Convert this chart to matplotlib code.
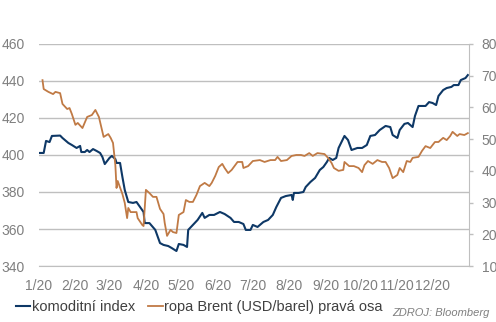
import matplotlib
matplotlib.use("Agg")
import matplotlib.pyplot as plt
import matplotlib.dates as mdates
import pandas as pd

# komoditní index (left axis), day offset from 2020-01-01
index_days = [0, 4, 6, 9, 11, 18, 20, 25, 28, 32, 35, 36, 39, 41, 43, 46, 49, 52, 54, 56,
              60, 62, 65, 66, 69, 71, 73, 76, 80, 83, 86, 89, 90, 94, 99, 103, 106, 110, 113, 117,
              119, 123, 126, 127, 131, 135, 139, 141, 145, 149, 154, 158, 163, 166, 170, 174, 176, 180, 182, 186,
              191, 195, 199, 202, 206, 210, 215, 216, 217, 221, 225, 227, 231, 235, 239, 242, 245, 247, 250, 253,
              255, 260, 263, 266, 271, 275, 279, 282, 286, 290, 295, 299, 301, 305, 307, 311, 314, 318, 320, 323,
              329, 332, 335, 338, 340, 344, 347, 351, 353, 357, 359, 363, 365]
index_vals = [401.1, 401.1, 407.6, 407.0, 410.3, 410.5, 409.2, 406.5, 405.4, 403.8, 404.9, 401.6, 401.6, 402.7, 401.6, 403.2, 402.2, 401.1, 398.9, 395.1,
              398.4, 399.5, 397.8, 395.7, 395.7, 388.1, 381.1, 374.6, 374.1, 374.6, 371.9, 369.2, 363.2, 363.2, 359.5, 352.4, 351.4, 350.8, 349.7, 348.1,
              351.9, 351.4, 350.3, 359.5, 362.2, 364.9, 368.7, 366.0, 367.6, 367.6, 369.2, 368.1, 366.0, 363.8, 363.8, 362.7, 359.5, 359.5, 362.2, 361.1,
              363.8, 364.9, 367.6, 371.9, 376.8, 377.8, 378.4, 375.7, 379.5, 379.5, 380.0, 382.7, 385.4, 387.6, 391.9, 393.5, 396.2, 398.4, 397.3, 398.4,
              403.8, 410.3, 408.1, 402.7, 403.8, 403.8, 405.4, 410.3, 410.8, 413.5, 415.7, 415.1, 410.8, 409.2, 413.5, 416.8, 417.3, 415.1, 421.1, 426.5,
              426.5, 428.6, 428.1, 427.0, 431.9, 435.1, 436.2, 436.8, 437.8, 437.8, 440.5, 441.6, 443.2]

# ropa Brent USD/barel (right axis)
brent_days = [3, 4, 8, 12, 14, 18, 20, 24, 26, 28, 31, 33, 37, 41, 45, 48, 51, 55, 59, 61,
              63, 65, 66, 67, 71, 73, 75, 76, 78, 83, 84, 88, 89, 91, 94, 97, 100, 103, 106, 107,
              109, 112, 114, 117, 119, 123, 125, 128, 131, 134, 137, 141, 145, 147, 150, 153, 156, 158, 161, 164,
              169, 173, 174, 178, 182, 188, 192, 197, 201, 203, 206, 211, 215, 219, 223, 226, 230, 233, 237, 243,
              246, 249, 251, 255, 259, 260, 264, 268, 272, 275, 277, 280, 284, 288, 292, 295, 298, 301, 305, 307,
              310, 313, 316, 318, 323, 326, 329, 333, 337, 340, 344, 347, 350, 352, 356, 358, 362, 365]
brent_vals = [68.6, 65.8, 64.9, 64.2, 64.9, 64.5, 61.1, 59.5, 59.8, 57.9, 54.5, 55.1, 53.5, 57.0, 57.6, 59.2, 57.0, 50.7, 51.6, 50.4,
              48.8, 41.8, 34.6, 36.8, 32.7, 29.9, 25.1, 28.3, 27.0, 27.0, 25.1, 22.9, 22.6, 34.0, 33.0, 31.8, 31.8, 28.0, 26.4, 23.6,
              19.5, 21.4, 20.7, 20.4, 26.1, 27.0, 30.8, 30.2, 30.2, 32.4, 35.2, 36.2, 35.2, 36.2, 38.4, 41.2, 42.2, 40.9, 39.3, 40.3,
              42.8, 42.8, 40.9, 41.5, 43.1, 43.4, 42.8, 43.4, 43.4, 44.4, 43.1, 43.4, 44.7, 45.0, 45.0, 44.7, 45.6, 44.7, 45.6, 45.3,
              44.1, 42.5, 40.9, 40.0, 40.3, 42.8, 41.5, 41.5, 40.9, 39.6, 41.8, 43.1, 42.2, 43.4, 42.8, 42.8, 40.9, 37.7, 38.7, 40.9,
              39.6, 43.1, 42.8, 44.1, 44.4, 46.3, 47.8, 47.2, 49.1, 49.1, 50.4, 49.7, 51.0, 52.3, 51.0, 51.6, 51.3, 51.9]

month_labels = ["1/20", "2/20", "3/20", "4/20", "5/20", "6/20",
                "7/20", "8/20", "9/20", "10/20", "11/20", "12/20"]

start = pd.Timestamp("2020-01-01")
index_dates = start + pd.to_timedelta(index_days, unit="D")
brent_dates = start + pd.to_timedelta(brent_days, unit="D")
month_starts = pd.date_range("2020-01-01", periods=12, freq="MS")

plt.rcParams["font.family"] = ["Liberation Sans", "DejaVu Sans"]
blue = "#0e3866"
orange = "#c07a45"
grid_c = "#bfbfbf"
tick_c = "#7f7f7f"

fig = plt.figure(figsize=(4.96, 3.22), dpi=100)
ax = fig.add_axes([0.0786, 0.1739, 0.867, 0.6895])
ax2 = ax.twinx()

ln1, = ax.plot(index_dates, index_vals, color=blue, lw=1.5, label="komoditní index")
ln2, = ax2.plot(brent_dates, brent_vals, color=orange, lw=1.3, label="ropa Brent (USD/barel) pravá osa")

ax.set_ylim(340, 460)
ax.set_yticks(range(340, 461, 20))
ax2.set_ylim(10, 80)
ax2.set_yticks(range(10, 81, 10))
ax.set_xlim(pd.Timestamp("2020-01-01"), pd.Timestamp("2021-01-01"))
ax.set_xticks(month_starts)
ax.set_xticklabels(month_labels)

ax.grid(axis="y", color=grid_c, lw=1)
ax.set_axisbelow(True)
for s in ["top", "left", "right"]:
    ax.spines[s].set_visible(False)
ax.spines["bottom"].set_color(grid_c)
for s in ["top", "left", "bottom"]:
    ax2.spines[s].set_visible(False)
ax2.spines["right"].set_color(grid_c)

ax.tick_params(axis="y", length=0, pad=10, labelsize=10, labelcolor=tick_c)
ax.tick_params(axis="x", length=0, pad=9, labelsize=10, labelcolor=tick_c)
ax2.tick_params(axis="y", length=3, width=1, color=grid_c, pad=6, labelsize=10, labelcolor=tick_c)

leg = fig.legend(handles=[ln1, ln2], loc="center left", bbox_to_anchor=(0.032, 0.047),
                 ncol=2, frameon=False, fontsize=10.5, handlelength=1.0, handletextpad=0.1,
                 columnspacing=0.9, borderpad=0, borderaxespad=0)
for t in leg.get_texts():
    t.set_color("#404040")

fig.text(0.988, 0.028, "ZDROJ: Bloomberg", ha="right", va="center",
         fontsize=8, style="italic", color=tick_c)

fig.savefig("out.png", dpi=100)
